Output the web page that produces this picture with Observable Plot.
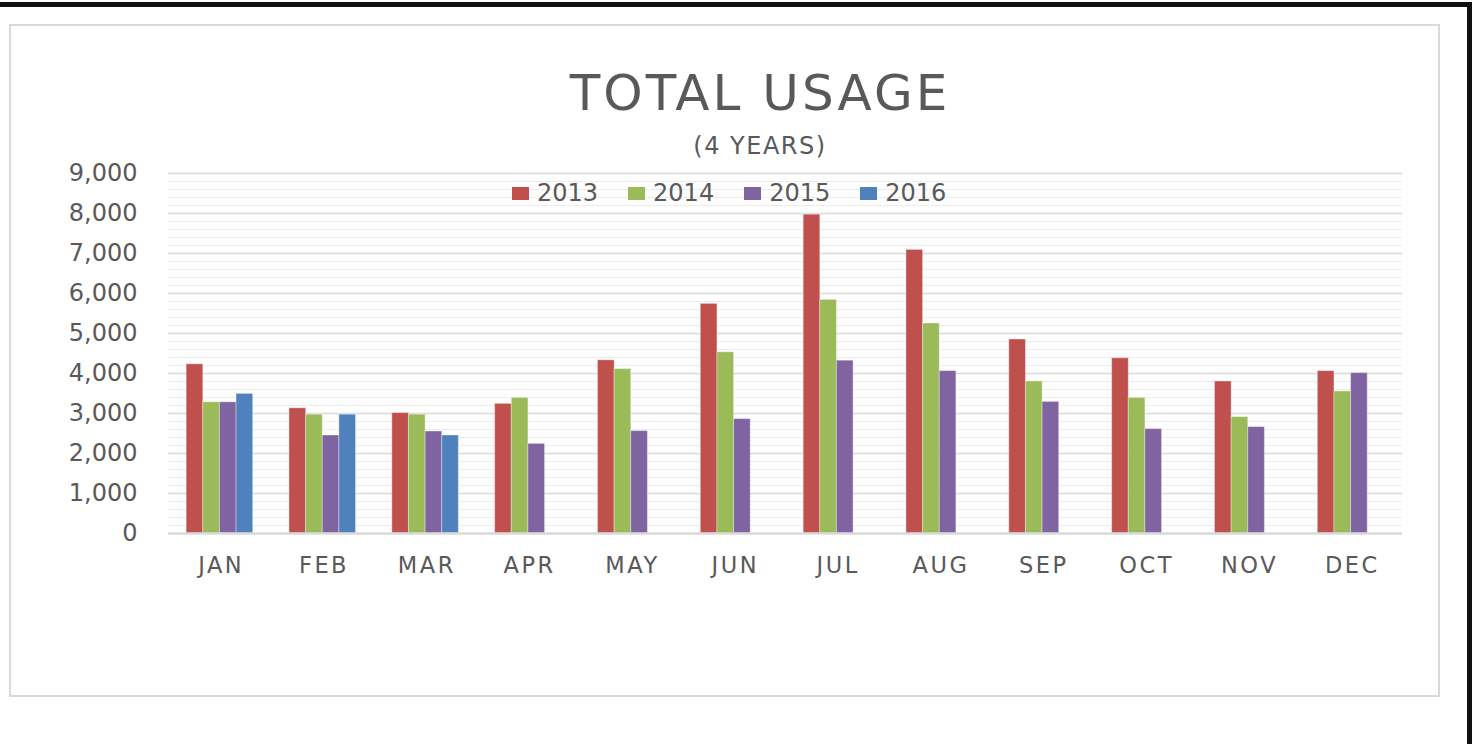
<!DOCTYPE html>
<html>
<head>
<meta charset="utf-8">
<script src="https://cdn.jsdelivr.net/npm/d3@7"></script>
<script src="https://cdn.jsdelivr.net/npm/@observablehq/plot@0.6"></script>
<style>
  body { margin: 0; background: #fff; }
  #page { position: relative; width: 1476px; height: 744px; overflow: hidden; font-family: "DejaVu Sans", sans-serif; color: #595959; }
  #outer { position: absolute; left: -10px; top: 2px; width: 1482px; height: 800px; border-top: 5px solid #111; border-right: 5px solid #111; box-sizing: border-box; }
  #inner { position: absolute; left: 9px; top: 24px; width: 1431px; height: 673px; border: 2px solid #d9d9d9; box-sizing: border-box; }
  #title { position: absolute; left: 760px; top: 68px; transform: translateX(-50%); font-size: 50px; line-height: 1; letter-spacing: 3px; white-space: nowrap; }
  #subtitle { position: absolute; left: 760px; top: 134px; transform: translateX(-50%); font-size: 24px; line-height: 1; letter-spacing: 1.5px; white-space: nowrap; }
  #chart { position: absolute; left: 0; top: 0; }
  #legend { position: absolute; left: 512px; top: 180px; height: 26px; display: flex; align-items: center; gap: 30px; font-size: 24px; line-height: 1; z-index: 2; }
  .item { display: flex; align-items: center; }
  .sw { width: 17px; height: 13px; margin-right: 8px; }
</style>
</head>
<body>
<div id="page">
  <div id="outer"></div>
  <div id="inner"></div>
  <div id="chart"></div>
  <div id="title">TOTAL USAGE</div>
  <div id="subtitle">(4 YEARS)</div>
  <div id="legend"></div>
</div>
<script>
const months = ["JAN","FEB","MAR","APR","MAY","JUN","JUL","AUG","SEP","OCT","NOV","DEC"];
const years = ["2013","2014","2015","2016"];
const colors = ["#C0504D","#9BBB59","#8064A2","#4F81BD"];
const v2013 = [4230,3130,3010,3240,4330,5740,7970,7090,4850,4380,3800,4060];
const v2014 = [3280,2970,2970,3390,4110,4530,5840,5250,3800,3390,2910,3550];
const v2015 = [3280,2450,2550,2240,2560,2860,4320,4060,3290,2610,2660,4010];
const v2016 = [3490,2970,2450];
const yTicks = [0,1000,2000,3000,4000,5000,6000,7000,8000,9000];

const series = [v2013, v2014, v2015, v2016];
const data = [];
series.forEach((vals, k) => vals.forEach((v, i) => data.push({mi: i, month: months[i], yi: k, year: years[k], value: v})));

// group occupies ~64.7% of each month's slot (Excel gap width), split among the 4 years
const groupFrac = 0.647;
const barW = groupFrac / years.length;
const minor = d3.range(0, 9001, 200).filter(v => v % 1000 !== 0);

const plot = Plot.plot({
  width: 1476,
  height: 744,
  marginLeft: 168,
  marginRight: 74,
  marginTop: 173,
  marginBottom: 211,
  style: { fontFamily: "DejaVu Sans, sans-serif", color: "#595959", background: "transparent" },
  x: { type: "linear", domain: [-0.5, months.length - 0.5], axis: null },
  y: { domain: [0, 9000], axis: null },
  color: { domain: years, range: colors },
  marks: [
    Plot.ruleY(minor, { stroke: "#ececec", strokeWidth: 1.2 }),
    Plot.ruleY(yTicks.slice(1), { stroke: "#d9d9d9", strokeWidth: 1.3 }),
    Plot.rectY(data, {
      x1: d => d.mi - groupFrac / 2 + d.yi * barW,
      x2: d => d.mi - groupFrac / 2 + (d.yi + 1) * barW,
      y: "value", fill: "year", stroke: "white", strokeOpacity: 0.35, strokeWidth: 1
    }),
    Plot.ruleY([0], { stroke: "#d9d9d9", strokeWidth: 2.5 }),
    Plot.axisY(yTicks, { tickSize: 0, tickPadding: 31, fontSize: 24, tickFormat: d3.format(","), label: null }),
    Plot.axisX(d3.range(months.length), { tickSize: 0, tickPadding: 24, fontSize: 22.5, tickFormat: i => months[i], label: null })
  ]
});
document.getElementById("chart").appendChild(plot);
d3.select(plot).selectAll('[aria-label="x-axis tick label"] text').style("letter-spacing", "2.5px").attr("dx", 1.25);

const legend = document.getElementById("legend");
years.forEach((y, k) => {
  const it = document.createElement("div");
  it.className = "item";
  const sw = document.createElement("div");
  sw.className = "sw";
  sw.style.background = colors[k];
  const t = document.createElement("span");
  t.textContent = y;
  it.appendChild(sw); it.appendChild(t);
  legend.appendChild(it);
});
</script>
</body>
</html>
